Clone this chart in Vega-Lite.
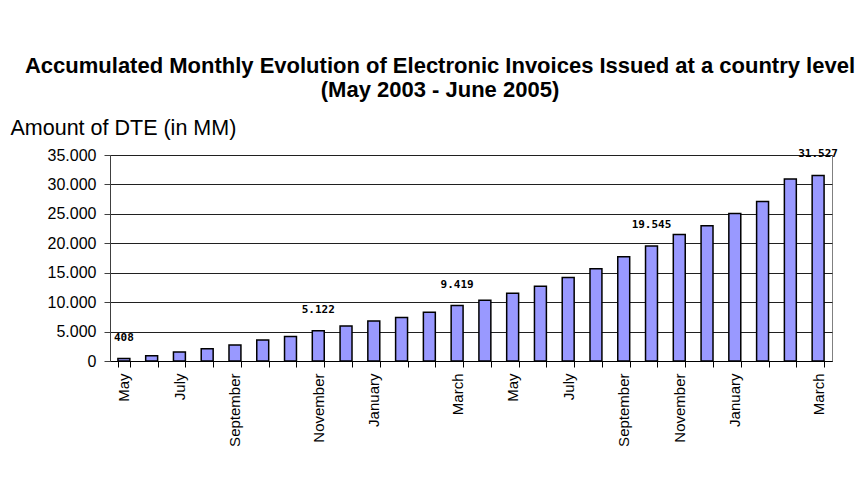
{
  "$schema": "https://vega.github.io/schema/vega-lite/v6.json",
  "autosize": "none",
  "width": 722,
  "height": 206,
  "padding": {"left": 110, "top": 155, "right": 32, "bottom": 137},
  "background": "white",
  "config": {
    "locale": {"number": {"decimal": ",", "thousands": ".", "grouping": [3], "currency": ["", ""]}},
    "font": "Liberation Sans",
    "view": {"stroke": "#808080", "strokeWidth": 1}
  },
  "title": {
    "text": ["Accumulated Monthly Evolution of Electronic Invoices Issued at a country level", "(May 2003 - June 2005)"],
    "font": "Liberation Sans",
    "fontWeight": "bold",
    "fontSize": 22,
    "lineHeight": 24,
    "color": "black",
    "anchor": "middle",
    "frame": "group",
    "dx": -31,
    "offset": 15
  },
  "data": {
    "values": [
      {"month": "2003-05", "dte": 408},
      {"month": "2003-06", "dte": 900},
      {"month": "2003-07", "dte": 1530},
      {"month": "2003-08", "dte": 2100},
      {"month": "2003-09", "dte": 2720},
      {"month": "2003-10", "dte": 3570},
      {"month": "2003-11", "dte": 4150},
      {"month": "2003-12", "dte": 5122},
      {"month": "2004-01", "dte": 5960},
      {"month": "2004-02", "dte": 6810},
      {"month": "2004-03", "dte": 7380},
      {"month": "2004-04", "dte": 8290},
      {"month": "2004-05", "dte": 9419},
      {"month": "2004-06", "dte": 10330},
      {"month": "2004-07", "dte": 11520},
      {"month": "2004-08", "dte": 12700},
      {"month": "2004-09", "dte": 14190},
      {"month": "2004-10", "dte": 15660},
      {"month": "2004-11", "dte": 17700},
      {"month": "2004-12", "dte": 19545},
      {"month": "2005-01", "dte": 21500},
      {"month": "2005-02", "dte": 22980},
      {"month": "2005-03", "dte": 25080},
      {"month": "2005-04", "dte": 27120},
      {"month": "2005-05", "dte": 30920},
      {"month": "2005-06", "dte": 31527}
    ]
  },
  "encoding": {
    "x": {
      "field": "month",
      "type": "ordinal",
      "sort": null,
      "scale": {"paddingInner": 0.57, "paddingOuter": 0.285},
      "axis": {
        "title": null,
        "tickBand": "extent",
        "tickSize": 6,
        "tickColor": "black",
        "domainColor": "black",
        "labelAngle": -90,
        "labelAlign": "right",
        "labelBaseline": "middle",
        "labelPadding": 6,
        "labelFontSize": 15,
        "labelColor": "black",
        "labelFont": "Liberation Sans",
        "labelExpr": "({'2003-05':'May','2003-07':'July','2003-09':'September','2003-12':'November','2004-02':'January','2004-05':'March','2004-07':'May','2004-09':'July','2004-11':'September','2005-01':'November','2005-03':'January','2005-06':'March'})[datum.value] || ''"
      }
    },
    "y": {
      "field": "dte",
      "type": "quantitative",
      "scale": {"domain": [0, 35000]},
      "axis": {
        "values": [0, 5000, 10000, 15000, 20000, 25000, 30000, 35000],
        "format": ",d",
        "title": "Amount of DTE (in MM)",
        "titleAngle": 0,
        "titleAlign": "left",
        "titleBaseline": "alphabetic",
        "titleX": -100,
        "titleY": -21,
        "titleFontSize": 21.5,
        "titleFontWeight": "normal",
        "titleColor": "black",
        "titleFont": "Liberation Sans",
        "labelFontSize": 16,
        "labelColor": "black",
        "labelPadding": 8,
        "labelFont": "Liberation Sans",
        "tickSize": 6,
        "tickColor": "#404040",
        "domainColor": "#404040",
        "gridColor": "#202020",
        "gridOpacity": 1
      }
    }
  },
  "layer": [
    {
      "mark": {"type": "bar", "color": "#9999ff", "stroke": "black", "strokeWidth": 1.5}
    },
    {
      "transform": [{"filter": {"field": "month", "oneOf": ["2003-05", "2003-12", "2004-05", "2004-12", "2005-06"]}}],
      "mark": {"type": "text", "font": "DejaVu Sans Mono", "fontWeight": "bold", "fontSize": 11, "color": "black", "baseline": "middle", "dy": -21},
      "encoding": {"text": {"field": "dte", "type": "quantitative", "format": ",d"}}
    }
  ]
}
